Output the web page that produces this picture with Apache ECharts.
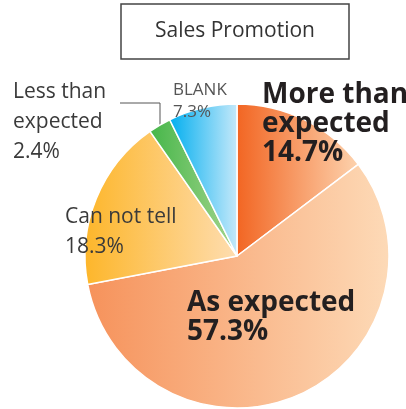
<!DOCTYPE html>
<html>
<head>
<meta charset="utf-8">
<script src="https://cdn.jsdelivr.net/npm/echarts@6/dist/echarts.min.js"></script>
<style>
  html, body { margin: 0; padding: 0; background: #fff; }
  #chart { width: 406px; height: 409px; }
</style>
</head>
<body>
<div id="chart"></div>
<script>
// data, clockwise from 12 o'clock
const names = ['More than\nexpected', 'As expected', 'Can not tell', 'Less than\nexpected', 'BLANK'];
const values = [14.7, 57.3, 18.3, 2.4, 7.3];
const gradients = [
  ['#F26522', '#FDD3AE'],
  ['#F6925B', '#FDDAB7'],
  ['#FDB62A', '#FEDDB0'],
  ['#45B649', '#A6D58E'],
  ['#00AEEF', '#C6E9FA']
];
const bigLabel = { fontSize: 28, fontWeight: 'bold', lineHeight: 29, color: '#231F20' };
const smallLabel = { fontSize: 21, fontWeight: 'normal', lineHeight: 30, color: '#3a3a3a' };
const tinyLabel = { fontSize: 17, fontWeight: 'normal', lineHeight: 22, color: '#555' };
const labelStyles = [bigLabel, bigLabel, smallLabel, smallLabel, tinyLabel];
// where each label's top-left sits
const labelPos = [[262, 81], [187, 289], [65, 202], [13, 77], [173, 79]];

const chart = echarts.init(document.getElementById('chart'));

const data = names.map((n, i) => ({
  name: n,
  value: values[i],
  itemStyle: {
    color: new echarts.graphic.LinearGradient(0, 0, 1, 0, [
      { offset: 0, color: gradients[i][0] },
      { offset: 1, color: gradients[i][1] }
    ])
  },
  label: Object.assign({}, labelStyles[i]),
  labelLine: { show: i === 3, lineStyle: { color: '#555', width: 1 } }
}));

chart.setOption({
  animation: false,
  title: {
    text: 'Sales Promotion',
    left: 121,
    top: 4,
    padding: [17, 34],
    borderColor: '#444',
    borderWidth: 1.5,
    textStyle: { fontFamily: 'Open Sans', fontSize: 21, fontWeight: 'normal', color: '#333' }
  },
  series: [
    {
      type: 'pie',
      center: [237, 256],
      radius: [0, 152],
      startAngle: 90,
      clockwise: true,
      itemStyle: { borderColor: '#fff', borderWidth: 1.5 },
      label: {
        show: true,
        position: 'outside',
        fontFamily: 'Open Sans',
        overflow: 'none',
        width: 200,
        formatter: p => p.name + '\n' + p.value + '%'
      },
      labelLine: { length: 10, length2: 10 },
      labelLayout: function (params) {
        const p = labelPos[params.dataIndex];
        const out = { x: p[0], y: p[1], align: 'left', verticalAlign: 'top' };
        if (params.dataIndex === 3) {
          out.labelLinePoints = [[160, 126], [160, 103], [120, 103]];
        }
        return out;
      },
      data: data
    }
  ]
});
</script>
</body>
</html>
